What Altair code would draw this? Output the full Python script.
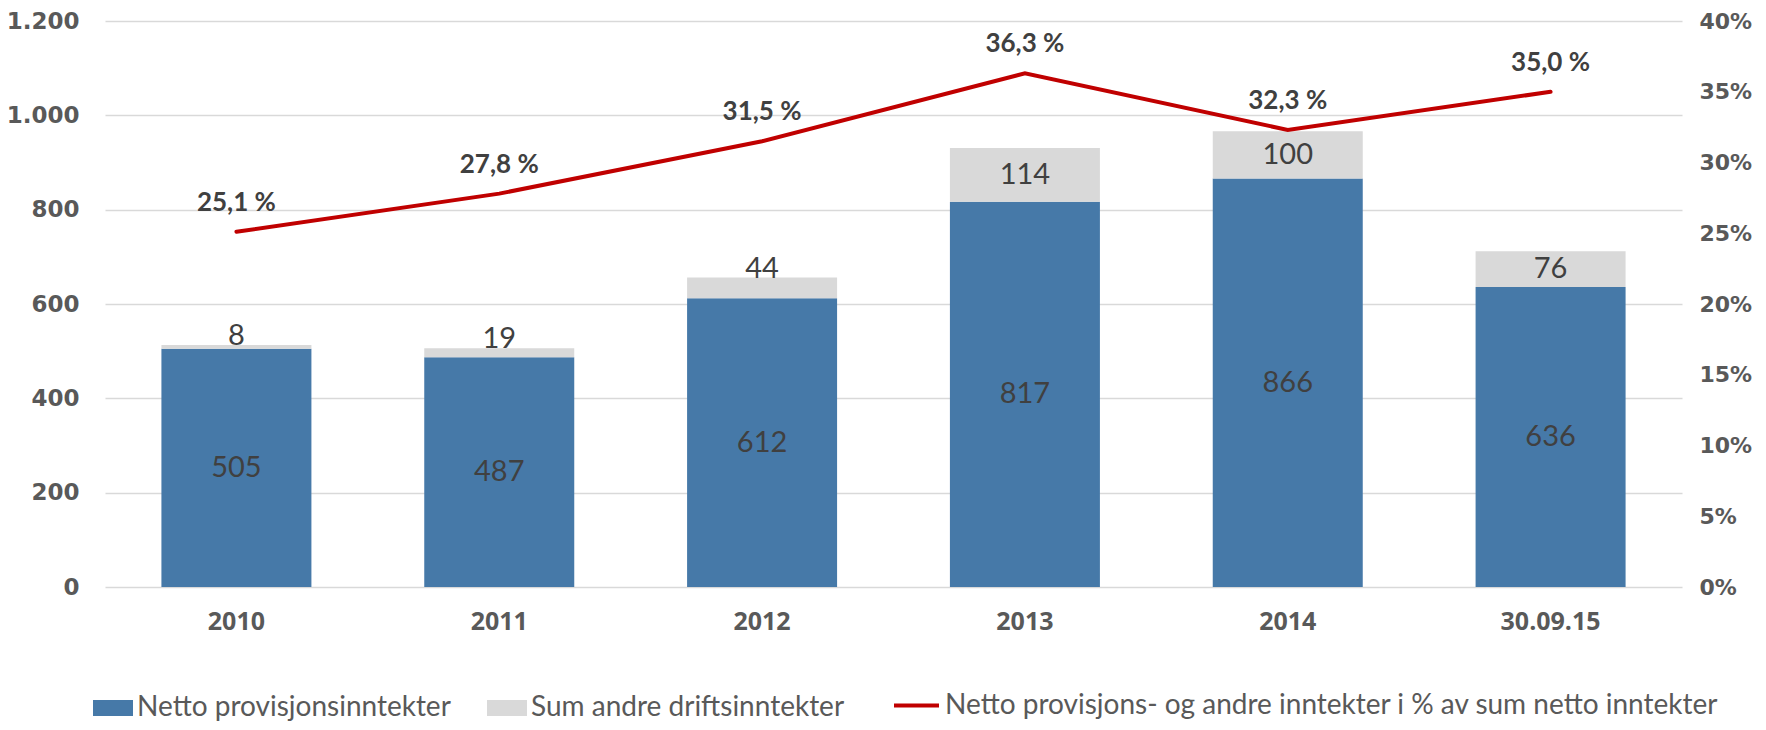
import altair as alt
import pandas as pd

years = ["2010", "2011", "2012", "2013", "2014", "30.09.15"]
netto = [505, 487, 612, 817, 866, 636]
andre = [8, 19, 44, 114, 100, 76]
pct = [25.1, 27.8, 31.5, 36.3, 32.3, 35.0]

s_netto = "Netto provisjonsinntekter"
s_andre = "Sum andre driftsinntekter"
s_line = "Netto provisjons- og andre inntekter i % av sum netto inntekter"

wide = pd.DataFrame({"year": years, "netto": netto, "andre": andre, "pct": pct})
long = pd.concat([
    pd.DataFrame({"year": years, "series": s_netto, "value": netto, "ord": 0}),
    pd.DataFrame({"year": years, "series": s_andre, "value": andre, "ord": 1}),
])

BLUE = "#4679A8"
GREY = "#D9D9D9"
RED = "#C00000"
TXT = "#404040"
AX = "#595959"
LEG_FS = 28

xenc = alt.X("year:N", sort=years, title=None,
             scale=alt.Scale(paddingInner=0.43, paddingOuter=0.215),
             axis=alt.Axis(labelAngle=0, ticks=False, domain=False, grid=False,
                           labelFont="Open Sans", labelFontWeight="bold",
                           labelFontSize=25, labelColor=AX, labelPadding=22))

yscale = alt.Scale(domain=[0, 1200], nice=False)
yaxis = alt.Axis(values=[0, 200, 400, 600, 800, 1000, 1200], orient="left",
                 labelExpr="replace(format(datum.value, ','), ',', '.')",
                 ticks=False, domain=False, grid=True, gridColor=GREY, gridWidth=1.5,
                 labelFont="DejaVu Sans", labelFontWeight="bold", labelFontSize=23,
                 labelColor=AX, labelPadding=26)

bars = alt.Chart(long).mark_bar(size=150).encode(
    x=xenc,
    y=alt.Y("value:Q", stack="zero", scale=yscale, axis=yaxis, title=None),
    color=alt.Color("series:N", scale=alt.Scale(domain=[s_netto, s_andre], range=[BLUE, GREY]),
                    legend=alt.Legend(orient="none", legendX=-12, legendY=667, direction="horizontal",
                                      title=None, symbolType="M-1,-0.4H1V0.4H-1Z", symbolSize=1600,
                                      symbolStrokeWidth=0, labelFont="Lato", labelFontSize=LEG_FS,
                                      labelColor=AX, labelOffset=4, columnPadding=36,
                                      labelLimit=800)),
    order=alt.Order("ord:Q"),
)

base_txt = alt.Chart(wide).encode(x=alt.X("year:N", sort=years))

lab_netto = base_txt.transform_calculate(ypos="datum.netto / 2").mark_text(
    font="Lato", fontSize=29, color=TXT, baseline="middle").encode(
    y=alt.Y("ypos:Q", scale=yscale), text=alt.Text("netto:Q"))

lab_andre_big = base_txt.transform_filter("datum.andre >= 50").transform_calculate(
    ypos="datum.netto + datum.andre / 2").mark_text(
    font="Lato", fontSize=29, color=TXT, baseline="middle").encode(
    y=alt.Y("ypos:Q", scale=yscale), text=alt.Text("andre:Q"))

lab_andre_small = base_txt.transform_filter("datum.andre < 50").transform_calculate(
    ypos="datum.netto + datum.andre").mark_text(
    font="Lato", fontSize=29, color=TXT, baseline="middle", dy=-9).encode(
    y=alt.Y("ypos:Q", scale=yscale), text=alt.Text("andre:Q"))

left = alt.layer(bars, lab_netto, lab_andre_big, lab_andre_small)

pscale = alt.Scale(domain=[0, 40], nice=False)
paxis = alt.Axis(values=[0, 5, 10, 15, 20, 25, 30, 35, 40], orient="right",
                 labelExpr="format(datum.value, 'd') + '%'",
                 ticks=False, domain=False, grid=False,
                 labelFont="DejaVu Sans", labelFontWeight="bold", labelFontSize=22,
                 labelColor=AX, labelPadding=17)

line_df = wide.assign(series=s_line)
line = alt.Chart(line_df).mark_line(strokeWidth=4, strokeCap="round").encode(
    x=alt.X("year:N", sort=years),
    y=alt.Y("pct:Q", scale=pscale, axis=paxis, title=None),
    stroke=alt.Stroke("series:N", scale=alt.Scale(domain=[s_line], range=[RED]),
                      legend=alt.Legend(orient="none", legendX=787, legendY=660, title=None,
                                        symbolType="stroke", symbolSize=2025, symbolStrokeWidth=4,
                                        labelFont="Lato", labelFontSize=LEG_FS, labelColor=AX,
                                        labelOffset=4, labelLimit=1000)),
)

pct_lab = alt.Chart(wide).transform_calculate(
    lab="replace(format(datum.pct, '.1f'), '.', ',') + ' %'").mark_text(
    font="Lato", fontWeight="bold", fontSize=26, color=TXT, baseline="middle", dy=-29).encode(
    x=alt.X("year:N", sort=years),
    y=alt.Y("pct:Q", scale=pscale),
    text="lab:N")

right = alt.layer(line, pct_lab)

chart = alt.layer(left, right).resolve_scale(y="independent", color="independent").properties(
    width=1577, height=566,
    autosize=alt.AutoSizeParams(type="none"),
    padding={"left": 97, "top": 13, "right": 76, "bottom": 135},
    background="white",
).configure_view(stroke=None)

chart.save("out.html", embed_options={"renderer": "svg", "actions": False})
